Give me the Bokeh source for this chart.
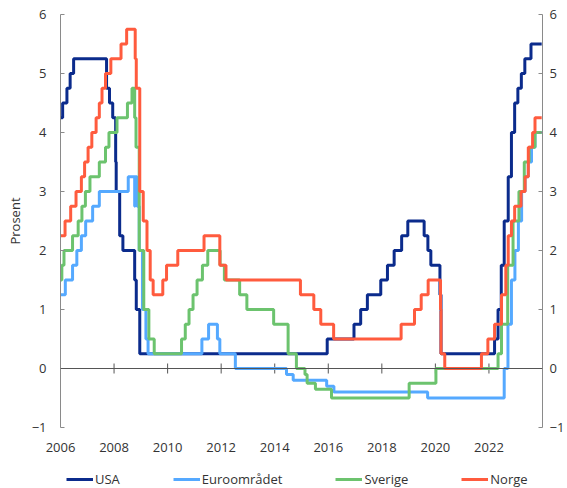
import math
from bokeh.plotting import figure
from bokeh.layouts import column
from bokeh.models import LinearAxis, FixedTicker, Legend, LegendItem, Span, Range1d
from bokeh.embed import file_html
from bokeh.resources import INLINE

# Policy rates (step changes: date as decimal year, new level in percent)
usa_x = [2006.0, 2006.08, 2006.24, 2006.36, 2006.49, 2007.72, 2007.83, 2007.95, 2008.06, 2008.08,
         2008.21, 2008.33, 2008.77, 2008.83, 2008.96, 2015.96, 2016.96, 2017.21, 2017.46, 2017.96,
         2018.21, 2018.46, 2018.74, 2018.97, 2019.58, 2019.72, 2019.83, 2020.17, 2020.21, 2022.21,
         2022.34, 2022.46, 2022.57, 2022.72, 2022.84, 2022.96, 2023.08, 2023.21, 2023.34, 2023.57, 2023.97]
usa_y = [4.25, 4.5, 4.75, 5.0, 5.25, 4.75, 4.5, 4.25, 3.5, 3.0,
         2.25, 2.0, 1.5, 1.0, 0.25, 0.5, 0.75, 1.0, 1.25, 1.5,
         1.75, 2.0, 2.25, 2.5, 2.25, 2.0, 1.75, 1.25, 0.25, 0.5,
         1.0, 1.75, 2.5, 3.25, 4.0, 4.5, 4.75, 5.0, 5.25, 5.5, 5.5]

euro_x = [2006.0, 2006.18, 2006.45, 2006.61, 2006.78, 2006.94, 2007.2, 2007.45, 2008.53, 2008.77,
          2008.78, 2008.86, 2008.94, 2009.06, 2009.19, 2009.27, 2011.28, 2011.53, 2011.86, 2011.95,
          2012.53, 2014.44, 2014.69, 2015.94, 2016.21, 2019.71, 2022.57, 2022.71, 2022.84, 2022.97,
          2023.1, 2023.22, 2023.35, 2023.47, 2023.59, 2023.72, 2023.97]
euro_y = [1.25, 1.5, 1.75, 2.0, 2.25, 2.5, 2.75, 3.0, 3.25, 2.75,
          3.25, 2.75, 2.0, 1.0, 0.5, 0.25, 0.5, 0.75, 0.5, 0.25,
          0.0, -0.1, -0.2, -0.3, -0.4, -0.5, 0.0, 0.75, 1.5, 2.0,
          2.5, 3.0, 3.25, 3.5, 3.75, 4.0, 4.0]

swe_x = [2006.0, 2006.05, 2006.13, 2006.45, 2006.66, 2006.8, 2006.93, 2007.1, 2007.45, 2007.68,
         2007.81, 2008.11, 2008.5, 2008.67, 2008.77, 2008.82, 2008.94, 2009.11, 2009.3, 2009.5,
         2010.52, 2010.66, 2010.8, 2010.95, 2011.1, 2011.3, 2011.5, 2011.96, 2012.12, 2012.69,
         2012.96, 2013.96, 2014.5, 2014.81, 2015.13, 2015.21, 2015.52, 2016.12, 2019.02, 2020.02,
         2022.34, 2022.47, 2022.7, 2022.9, 2023.12, 2023.32, 2023.5, 2023.72, 2023.97]
swe_y = [1.5, 1.75, 2.0, 2.25, 2.5, 2.75, 3.0, 3.25, 3.5, 3.75,
         4.0, 4.25, 4.5, 4.75, 4.25, 3.75, 2.0, 1.0, 0.5, 0.25,
         0.5, 0.75, 1.0, 1.25, 1.5, 1.75, 2.0, 1.75, 1.5, 1.25,
         1.0, 0.75, 0.25, 0.0, -0.1, -0.25, -0.35, -0.5, -0.25, 0.0,
         0.25, 0.75, 1.75, 2.5, 3.0, 3.5, 3.75, 4.0, 4.0]

nor_x = [2006.0, 2006.17, 2006.38, 2006.58, 2006.78, 2006.9, 2007.03, 2007.17, 2007.33, 2007.45,
         2007.55, 2007.68, 2007.88, 2008.26, 2008.47, 2008.79, 2008.83, 2008.96, 2009.09, 2009.23,
         2009.35, 2009.46, 2009.82, 2009.96, 2010.38, 2011.36, 2011.95, 2012.18, 2014.96, 2015.46,
         2015.72, 2016.2, 2018.72, 2019.22, 2019.47, 2019.73, 2020.19, 2020.21, 2020.35, 2021.72,
         2021.96, 2022.21, 2022.47, 2022.63, 2022.72, 2022.84, 2022.96, 2023.2, 2023.35, 2023.47,
         2023.63, 2023.72, 2023.97]
nor_y = [2.25, 2.5, 2.75, 3.0, 3.25, 3.5, 3.75, 4.0, 4.25, 4.5,
         4.75, 5.0, 5.25, 5.5, 5.75, 5.25, 4.75, 3.0, 2.5, 2.0,
         1.5, 1.25, 1.5, 1.75, 2.0, 2.25, 1.75, 1.5, 1.25, 1.0,
         0.75, 0.5, 0.75, 1.0, 1.25, 1.5, 1.0, 0.25, 0.0, 0.25,
         0.5, 0.75, 1.25, 1.75, 2.25, 2.5, 2.75, 3.0, 3.25, 3.75,
         4.0, 4.25, 4.25]

series_names = ["USA", "Euroområdet", "Sverige", "Norge"]
series_colors = ["#0b2b8c", "#55a9ff", "#6cc36e", "#ff5b3e"]
all_x = [usa_x, euro_x, swe_x, nor_x]
all_y = [usa_y, euro_y, swe_y, nor_y]

x_ticks = [2006, 2008, 2010, 2012, 2014, 2016, 2018, 2020, 2022]
y_ticks = [-1, 0, 1, 2, 3, 4, 5, 6]

FONT = "Open Sans"
TXT = "#333333"
AX = "#8a8a8a"
ZERO = "#555555"

p = figure(width=567, height=460, x_range=(2006, 2024), y_range=(-1, 6),
           output_backend="svg", toolbar_location=None,
           min_border_left=60, min_border_right=22, min_border_top=14, min_border_bottom=33)
p.outline_line_color = None
p.grid.visible = False
p.background_fill_color = None
p.border_fill_color = "white"

# zero line with crossing tick marks
p.add_layout(Span(location=0, dimension="width", line_color=ZERO, line_width=1))
p.scatter(x=x_ticks[1:], y=[0] * (len(x_ticks) - 1), marker="dash", angle=math.pi / 2,
          size=10, line_color=ZERO, line_width=1)

for xs, ys, c in zip(all_x, all_y, series_colors):
    p.step(xs, ys, mode="after", line_color=c, line_width=3)

# bottom axis: labels only
xa = p.xaxis[0]
xa.ticker = FixedTicker(ticks=x_ticks)
xa.axis_line_color = None
xa.major_tick_line_color = None
xa.minor_tick_line_color = None
xa.major_tick_out = 0
xa.major_tick_in = 0
xa.major_label_standoff = 15
xa.major_label_text_font = FONT
xa.major_label_text_font_size = "13px"
xa.major_label_text_color = TXT

# left axis
ya = p.yaxis[0]
ya.ticker = FixedTicker(ticks=y_ticks)
ya.axis_line_color = AX
ya.major_tick_line_color = AX
ya.major_tick_in = 4
ya.major_tick_out = 0
ya.minor_tick_line_color = None
ya.major_label_standoff = 14
ya.major_label_text_font = FONT
ya.major_label_text_font_size = "13px"
ya.major_label_text_color = TXT
ya.axis_label = "Prosent"
ya.axis_label_text_font = FONT
ya.axis_label_text_font_size = "13px"
ya.axis_label_text_font_style = "normal"
ya.axis_label_text_color = TXT
ya.axis_label_standoff = 5

# right axis
ra = LinearAxis(ticker=FixedTicker(ticks=y_ticks))
ra.axis_line_color = AX
ra.major_tick_line_color = AX
ra.major_tick_in = 4
ra.major_tick_out = 0
ra.minor_tick_line_color = None
ra.major_label_standoff = 7
ra.major_label_text_font = FONT
ra.major_label_text_font_size = "13px"
ra.major_label_text_color = TXT
p.add_layout(ra, "right")

# legend strip below the chart (its frame is aligned with the chart frame)
lf = figure(width=567, height=28, x_range=Range1d(0, 1), y_range=Range1d(0, 1),
            output_backend="svg", toolbar_location=None,
            x_axis_type=None, y_axis_type=None,
            min_border_left=0, min_border_right=0, min_border_top=0, min_border_bottom=0)
lf.outline_line_color = None
lf.grid.visible = False
lf.border_fill_color = "white"
leg_renderers = []
for xs, ys, c in zip(all_x, all_y, series_colors):
    leg_renderers.append(lf.step(xs, ys, mode="after", line_color=c, line_width=3))

legend = Legend(items=[LegendItem(label=n, renderers=[r]) for n, r in zip(series_names, leg_renderers)],
                orientation="horizontal", location=(6, 0),
                glyph_width=27, glyph_height=14, label_standoff=2, spacing=53,
                padding=2, margin=0,
                label_text_font=FONT, label_text_font_size="13px", label_text_color=TXT,
                border_line_color=None, background_fill_alpha=0)
lf.add_layout(legend, "center")

layout = column(p, lf, spacing=0)
open("out.html", "w").write(file_html(layout, INLINE))
